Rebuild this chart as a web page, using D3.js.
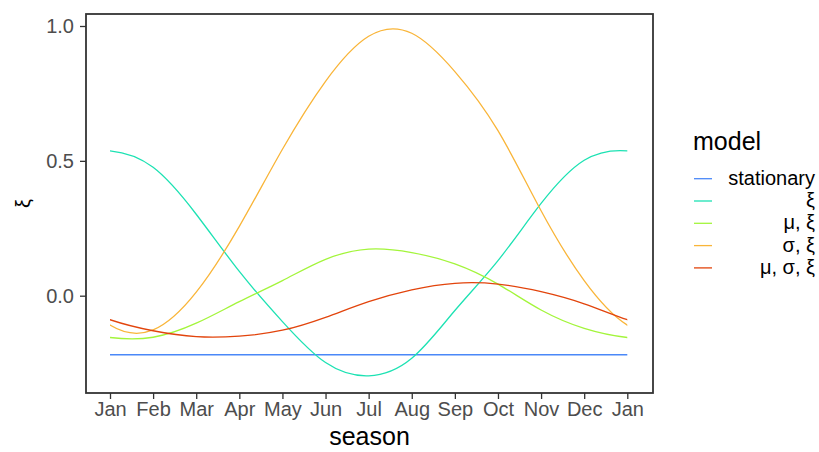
<!DOCTYPE html>
<html>
<head>
<meta charset="utf-8">
<script src="https://cdn.jsdelivr.net/npm/d3@7"></script>
<style>
    body { margin: 0; background: #fff; }
    text { font-family: "Liberation Sans", Arial, sans-serif; }
</style>
</head>
<body>
<div id="chart"></div>
<script>
// month ticks along the x axis (Jan .. Jan)
const months = ["Jan", "Feb", "Mar", "Apr", "May", "Jun", "Jul", "Aug", "Sep", "Oct", "Nov", "Dec", "Jan"];
const yTicks = [0.0, 0.5, 1.0];

// shape parameter xi per model, read at each month tick
const stationary = [-0.219, -0.219, -0.219, -0.219, -0.219, -0.219, -0.219, -0.219, -0.219, -0.219, -0.219, -0.219, -0.219];
const xiOnly = [0.537, 0.476, 0.302, 0.090, -0.096, -0.248, -0.297, -0.232, -0.055, 0.130, 0.342, 0.502, 0.537];
const muXi = [-0.155, -0.154, -0.102, -0.022, 0.056, 0.135, 0.173, 0.160, 0.118, 0.043, -0.053, -0.121, -0.155];
const sigmaXi = [-0.109, -0.127, 0.013, 0.257, 0.543, 0.795, 0.962, 0.973, 0.831, 0.612, 0.315, 0.056, -0.109];
const muSigmaXi = [-0.089, -0.130, -0.152, -0.150, -0.128, -0.080, -0.022, 0.022, 0.046, 0.043, 0.015, -0.030, -0.089];

const modelNames = ["stationary", "ξ", "μ, ξ", "σ, ξ", "μ, σ, ξ"];
const modelValues = [stationary, xiOnly, muXi, sigmaXi, muSigmaXi];
const modelColors = ["#4A88F8", "#1DE2B3", "#A3F53B", "#F9B539", "#E2440C"];

const W = 819, H = 452;
const panel = { left: 86, right: 653, top: 14, bottom: 393 };

const svg = d3.select("#chart").append("svg")
    .attr("width", W)
    .attr("height", H);

const x = d3.scaleLinear()
    .domain([0, 12])
    .range([110, 627.3]);

const y = d3.scaleLinear()
    .domain([0, 1])
    .range([295.7, 26]);

// the season is periodic: wrap two months on each side so the spline
// has no end effects, then clip the lines back to Jan..Jan
function wrapped(vals) {
    const n = vals.length - 1; // last point repeats the first
    const pts = [];
    for (let i = -2; i <= n + 2; i++) {
        const k = ((i % n) + n) % n;
        pts.push([i, vals[k]]);
    }
    return pts;
}

svg.append("clipPath").attr("id", "season-clip")
    .append("rect")
    .attr("x", x(0)).attr("y", panel.top)
    .attr("width", x(12) - x(0))
    .attr("height", panel.bottom - panel.top);

// LINES
const line = d3.line()
    .x(d => x(d[0]))
    .y(d => y(d[1]))
    .curve(d3.curveNatural);

svg.append("g")
    .attr("clip-path", "url(#season-clip)")
    .selectAll("path")
    .data(modelValues)
    .enter().append("path")
    .attr("d", d => line(wrapped(d)))
    .attr("fill", "none")
    .attr("stroke", (d, i) => modelColors[i])
    .attr("stroke-width", 1.3);

// PANEL BORDER
svg.append("rect")
    .attr("x", panel.left).attr("y", panel.top)
    .attr("width", panel.right - panel.left)
    .attr("height", panel.bottom - panel.top)
    .attr("fill", "none")
    .attr("stroke", "#333333")
    .attr("stroke-width", 1.8);

// AXES
const xAxis = svg.append("g")
    .attr("transform", "translate(0," + panel.bottom + ")")
    .call(d3.axisBottom(x)
        .tickValues(d3.range(months.length))
        .tickFormat(i => months[i])
        .tickSize(6).tickPadding(3));

const yAxis = svg.append("g")
    .attr("transform", "translate(" + panel.left + ",0)")
    .call(d3.axisLeft(y)
        .tickValues(yTicks)
        .tickFormat(d3.format(".1f"))
        .tickSize(6).tickPadding(6));

[xAxis, yAxis].forEach(a => {
    a.select(".domain").remove();
    a.selectAll(".tick line").attr("stroke", "#333333").attr("stroke-width", 1.3);
    a.selectAll(".tick text")
        .attr("fill", "#4D4D4D")
        .style("font-size", "20px")
        .style("font-family", "'Liberation Sans', Arial, sans-serif");
});

// AXIS TITLES
svg.append("text")
    .text("season")
    .attr("x", (panel.left + panel.right) / 2)
    .attr("y", 445)
    .attr("text-anchor", "middle")
    .style("font-size", "25px")
    .attr("fill", "#000");

svg.append("text")
    .text("ξ")
    .attr("transform", "translate(30," + (panel.top + panel.bottom) / 2 + ") rotate(-90)")
    .attr("text-anchor", "middle")
    .style("font-size", "20px")
    .attr("fill", "#000");

// LEGEND
const legend = svg.append("g");
legend.append("text")
    .text("model")
    .attr("x", 693).attr("y", 150)
    .style("font-size", "25px")
    .attr("fill", "#000");

const items = legend.selectAll(".item")
    .data(modelNames)
    .enter().append("g")
    .attr("class", "item")
    .attr("transform", (d, i) => "translate(0," + (178.7 + i * 22.3) + ")");

items.append("line")
    .attr("x1", 694).attr("x2", 712)
    .attr("y1", 0).attr("y2", 0)
    .attr("stroke", (d, i) => modelColors[i])
    .attr("stroke-width", 1.3);

items.append("text")
    .text(d => d)
    .attr("x", 815).attr("y", 0)
    .attr("dy", "0.3em")
    .attr("text-anchor", "end")
    .style("font-size", "20px")
    .attr("fill", "#000");
</script>
</body>
</html>
